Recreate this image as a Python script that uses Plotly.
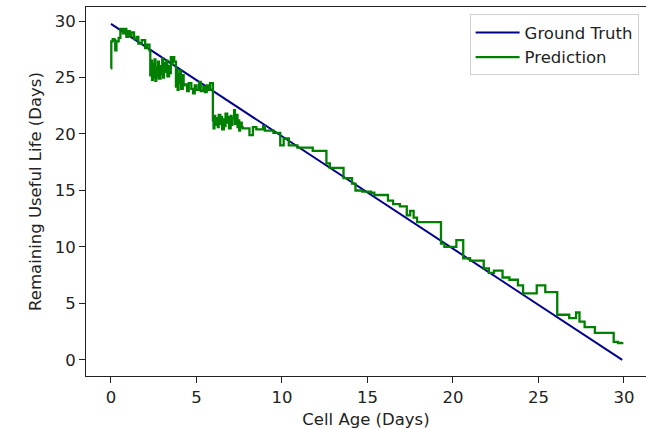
import plotly.graph_objects as go

# Ground truth (linear RUL)
gt_x = [0.0, 29.9]
gt_y = [29.75, 0.0]

# Prediction (step-like)
pred_x = [0.0, 0.02, 0.1, 0.2, 0.25, 0.32, 0.45, 0.55, 0.7, 0.8, 0.9, 1.0, 1.1, 1.2, 1.35, 1.5, 1.6, 1.8, 2.0, 2.1, 2.25,
          2.3, 2.35, 2.4, 2.45, 2.5, 2.55, 2.6, 2.65, 2.7, 2.75, 2.8, 2.9, 2.95, 3.0, 3.05, 3.1, 3.2, 3.25, 3.3, 3.4, 3.45, 3.5, 3.55, 3.6, 3.7,
          3.8, 3.85, 3.9, 3.95, 4.0, 4.05, 4.1, 4.2, 4.25,
          4.3, 4.45, 4.55, 4.7, 4.8, 4.9, 5.0, 5.15, 5.25, 5.4, 5.5, 5.6, 5.7, 5.8,
          5.96, 6.0, 6.05, 6.1, 6.2, 6.25, 6.3, 6.4, 6.45, 6.5, 6.6, 6.65, 6.7, 6.8, 6.85, 6.9, 7.0, 7.05, 7.1, 7.2, 7.25, 7.3, 7.4, 7.45, 7.5, 7.55, 7.65,
          7.7, 8.1, 8.3, 8.5, 8.9, 9.0, 9.5, 9.9, 10.1, 10.4, 10.9, 11.8, 12.6, 12.8,
          13.6, 14.1, 14.3, 14.7, 15.2, 15.4, 16.2, 16.5, 16.9, 17.3, 17.5, 17.7, 17.9,
          19.3, 19.5, 20.2, 20.6, 21.0, 21.8, 22.1, 22.4, 22.9, 23.3, 23.8, 24.1, 24.9, 25.4,
          26.1, 26.8, 27.2, 27.4, 27.7, 28.3, 28.7, 29.4, 29.65, 29.9]
pred_y = [25.8, 28.2, 28.4, 28.3, 27.4, 28.2, 28.5, 29.3, 28.9, 29.3, 28.6, 29.1, 28.7, 29.0, 28.4, 28.6, 28.0, 28.3, 27.6, 27.9, 27.4,
          25.2, 26.5, 24.8, 26.2, 25.0, 26.6, 24.7, 25.9, 25.1, 26.4, 24.9, 26.0, 25.3, 26.7, 25.0, 26.3, 25.5, 26.5, 25.1, 26.0, 25.4, 26.8, 26.2, 26.8, 26.4,
          24.2, 25.7, 23.9, 25.3, 24.5, 25.6, 24.0, 25.2, 24.3,
          24.4, 23.8, 24.5, 24.0, 23.6, 24.3, 23.9, 24.6, 23.8, 24.2, 23.7, 24.3, 23.9, 24.5,
          21.2, 20.5, 21.6, 20.8, 21.4, 20.6, 21.7, 20.9, 21.5, 20.4, 21.3, 20.7, 21.8, 21.0, 21.5, 20.5, 21.6, 20.8, 21.4, 22.1, 20.9, 21.7, 20.6, 21.2, 20.3, 21.0, 20.6,
          20.5, 19.9, 20.6, 20.4, 20.7, 20.3, 20.1, 19.0, 19.6, 19.0, 18.8, 18.5, 17.4, 17.0,
          16.1, 15.6, 15.0, 14.9, 14.8, 14.6, 14.1, 13.8, 13.6, 12.8, 13.2, 12.6, 12.2,
          10.3, 10.0, 10.6, 9.0, 8.8, 8.1, 7.7, 7.9, 7.3, 7.1, 6.6, 5.9, 6.6, 6.0,
          4.0, 3.7, 4.2, 3.4, 2.9, 2.4, 2.4, 1.6, 1.5, 1.6]

fig = go.Figure()
fig.add_trace(go.Scatter(x=gt_x, y=gt_y, mode="lines", name="Ground Truth",
                         line=dict(color="#00008b", width=2)))
fig.add_trace(go.Scatter(x=pred_x, y=pred_y, mode="lines", name="Prediction",
                         line=dict(color="#008000", width=2.3, shape="hv")))

font = dict(family="DejaVu Sans", size=16.5, color="#222222")
fig.update_layout(
    width=646, height=429,
    margin=dict(l=86, r=0, t=7, b=53),
    paper_bgcolor="white", plot_bgcolor="white",
    font=font,
    showlegend=True,
    legend=dict(x=0.685, y=0.98, xanchor="left", yanchor="top",
                bgcolor="white", bordercolor="#d0d0d0", borderwidth=1,
                font=font, tracegroupgap=0, itemwidth=44),
    xaxis=dict(range=[-1.46, 31.29], tickvals=[0, 5, 10, 15, 20, 25, 30],
               showgrid=False, zeroline=False, showline=True, linecolor="#222",
               linewidth=1, mirror=True, ticks="outside", ticklen=6, tickcolor="#222",
               title=dict(text="Cell Age (Days)", standoff=8, font=font)),
    yaxis=dict(range=[-1.42, 31.24], tickvals=[0, 5, 10, 15, 20, 25, 30],
               showgrid=False, zeroline=False, showline=True, linecolor="#222",
               linewidth=1, mirror=False, ticks="outside", ticklen=6, tickcolor="#222",
               title=dict(text="Remaining Useful Life (Days)", standoff=8, font=font)),
)
fig.write_html("out.html")
